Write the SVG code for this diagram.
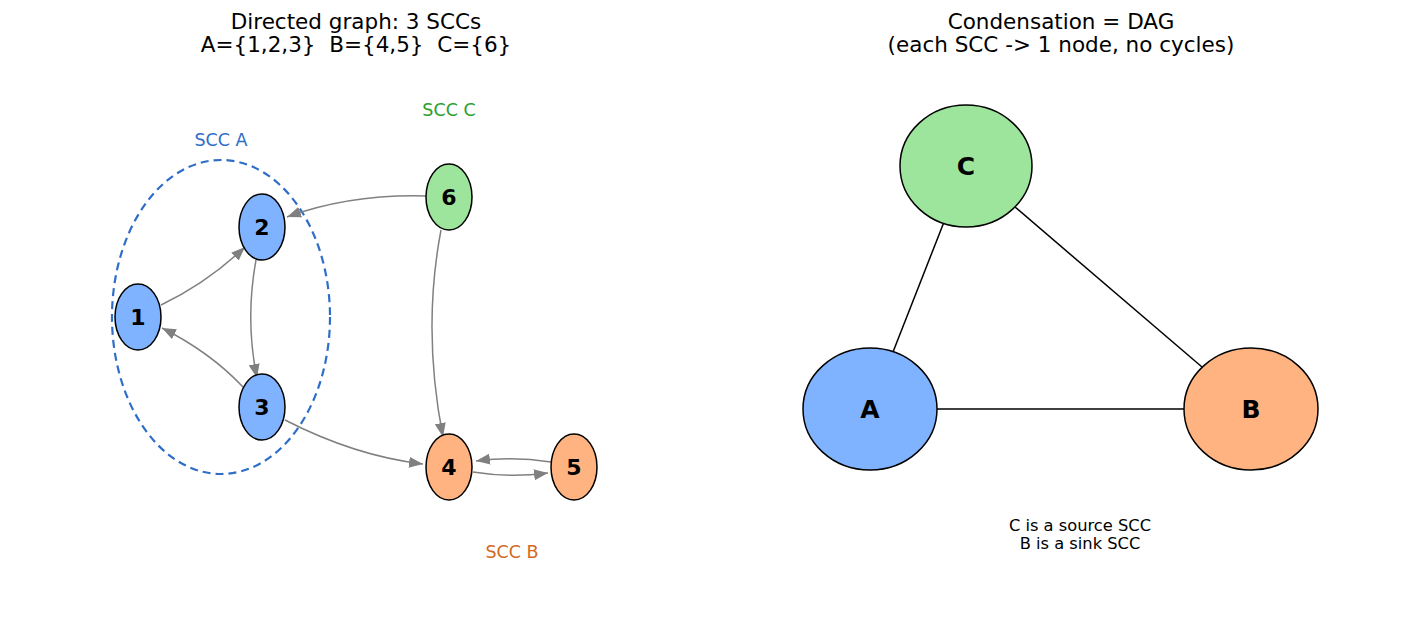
<svg xmlns="http://www.w3.org/2000/svg" width="1417" height="630" viewBox="0 0 1417 630">
<style>
text{font-family:"DejaVu Sans","Liberation Sans",sans-serif;text-anchor:middle;white-space:pre}
.title{font-size:21.5px;fill:#000}
.lbl{font-size:22px;font-weight:bold;fill:#000}
.big{font-size:25px;font-weight:bold;fill:#000}
.scc{font-size:17.5px}
.note{font-size:16.3px;fill:#000}
.node{stroke:#000;stroke-width:1.5}
.blue{fill:#80b3ff}.green{fill:#9de59d}.orange{fill:#ffb380}
.e{fill:none;stroke:#808080;stroke-width:1.5;marker-end:url(#ah)}
.u{stroke:#000;stroke-width:1.5}
</style>
<defs>
<marker id="ah" markerUnits="userSpaceOnUse" markerWidth="15" markerHeight="11" refX="14" refY="5.5" orient="auto" viewBox="0 0 15 11">
<path d="M0,0 L14,5.5 L0,11 z" fill="#808080"/>
</marker>
</defs>
<rect width="1417" height="630" fill="#fff"/>
<text class="title" x="356" y="29">Directed graph: 3 SCCs</text>
<text class="title" x="356" y="52" xml:space="preserve">A={1,2,3}  B={4,5}  C={6}</text>
<text class="title" x="1061" y="29">Condensation = DAG</text>
<text class="title" x="1061" y="52">(each SCC -&gt; 1 node, no cycles)</text>

<g id="sccA">
<ellipse cx="221" cy="317" rx="109" ry="157" fill="none" stroke="#2f6ec8" stroke-width="2.2" stroke-dasharray="8,5"/>
<text class="scc" x="221" y="146" fill="#2f6ec8">SCC A</text>
</g>
<text class="scc" x="449" y="116" fill="#2ca02c">SCC C</text>
<text class="scc" x="512" y="558" fill="#d2691e">SCC B</text>

<g id="connectors">
<path class="e" d="M161,305 Q207,283 245,247"/>
<path class="e" d="M256,260 Q245,320 257,378"/>
<path class="e" d="M243,387 Q210,352 162,328"/>
<path class="e" d="M426,196 Q350,194 287,217"/>
<path class="e" d="M441,230 Q422,330 443,437"/>
<path class="e" d="M285,420 Q355,456 423,464"/>
<path class="e" d="M473,472 Q510,478 548,473"/>
<path class="e" d="M551,462 Q513,456 476,461"/>
<line class="u" x1="944" y1="222" x2="893" y2="352"/>
<line class="u" x1="1015" y1="207" x2="1202" y2="367"/>
<line class="u" x1="937" y1="409" x2="1185" y2="409"/>
</g>

<g id="n1"><ellipse class="node blue" cx="138" cy="317" rx="23" ry="33"/><text class="lbl" x="138" y="325">1</text></g>
<g id="n2"><ellipse class="node blue" cx="262" cy="227" rx="23" ry="33"/><text class="lbl" x="262" y="235">2</text></g>
<g id="n3"><ellipse class="node blue" cx="262" cy="407" rx="23" ry="33"/><text class="lbl" x="262" y="415">3</text></g>
<g id="n4"><ellipse class="node orange" cx="449" cy="467" rx="23" ry="33"/><text class="lbl" x="449" y="475">4</text></g>
<g id="n5"><ellipse class="node orange" cx="574" cy="467" rx="23" ry="33"/><text class="lbl" x="574" y="475">5</text></g>
<g id="n6"><ellipse class="node green" cx="449" cy="197" rx="23" ry="33"/><text class="lbl" x="449" y="205">6</text></g>

<g id="nC"><ellipse class="node green" cx="966" cy="166" rx="66" ry="61"/><text class="big" x="966" y="175">C</text></g>
<g id="nA"><ellipse class="node blue" cx="870" cy="409" rx="67" ry="61"/><text class="big" x="870" y="418">A</text></g>
<g id="nB"><ellipse class="node orange" cx="1251" cy="409" rx="67" ry="61"/><text class="big" x="1251" y="418">B</text></g>

<text class="note" x="1080" y="531">C is a source SCC</text>
<text class="note" x="1080" y="549">B is a sink SCC</text>
</svg>
